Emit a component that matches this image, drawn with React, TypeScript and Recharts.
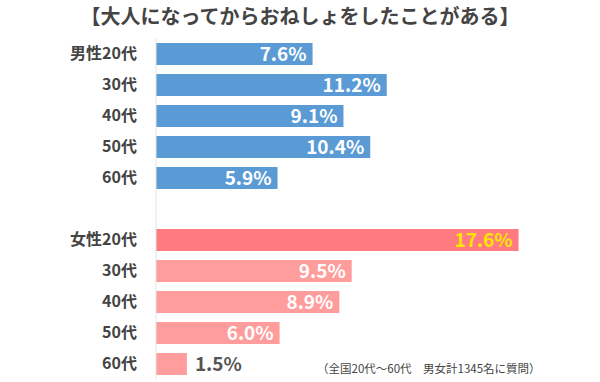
import { BarChart, Bar, XAxis, YAxis, Cell, LabelList } from 'recharts'

const maleGroups = ['男性20代', '30代', '40代', '50代', '60代']
const maleValues = [7.6, 11.2, 9.1, 10.4, 5.9]
const femaleGroups = ['女性20代', '30代', '40代', '50代', '60代']
const femaleValues = [17.6, 9.5, 8.9, 6.0, 1.5]

const title = '【大人になってからおねしょをしたことがある】'
const note = '（全国20代～60代　男女計1345名に質問）'

const MALE = '#5b9bd5'
const FEMALE_TOP = '#ff7b80'
const FEMALE = '#ff9c9c'
const FONT = '"Noto Sans CJK JP", "Noto Sans", sans-serif'

const data = [
  ...maleGroups.map((label, i) => ({ key: `m${i}`, label, value: maleValues[i], color: MALE })),
  { key: 'gap', label: '', value: null as number | null, color: 'none' },
  ...femaleGroups.map((label, i) => ({
    key: `f${i}`,
    label,
    value: femaleValues[i],
    color: i === 0 ? FEMALE_TOP : FEMALE,
  })),
]

function YTick(props: any) {
  const { x, y, payload } = props
  const row = data.find((d) => d.key === payload.value)
  return (
    <text x={x} y={y} dy={5} textAnchor="end" fill="#444" fontSize={16} fontWeight={700} fontFamily={FONT}>
      {row ? row.label : ''}
    </text>
  )
}

function ValueLabel(props: any) {
  const { x, y, width, height, value } = props
  if (value == null) return null
  const text = `${Number(value).toFixed(1)}%`
  const cy = y + height / 2 + 7
  if (width < 60) {
    return (
      <text x={x + width + 8} y={cy} textAnchor="start" fill="#555" fontSize={19} fontWeight={700} fontFamily={FONT}>
        {text}
      </text>
    )
  }
  // the top female bar gets the highlighted label
  const fill = value === femaleValues[0] ? '#ffe600' : '#fff'
  return (
    <text x={x + width - 6} y={cy} textAnchor="end" fill={fill} fontSize={19} fontWeight={700} fontFamily={FONT}>
      {text}
    </text>
  )
}

export default function App() {
  return (
    <div style={{ position: 'absolute', left: 0, top: 0, width: 600, height: 382, background: '#fff', fontFamily: FONT }}>
      <div
        style={{
          position: 'absolute',
          left: 0,
          top: 3,
          width: 600,
          textAlign: 'center',
          fontSize: 20,
          fontWeight: 700,
          color: '#444',
          lineHeight: '26px',
        }}
      >
        {title}
      </div>
      <BarChart
        width={600}
        height={382}
        data={data}
        layout="vertical"
        margin={{ top: 38, right: 32, bottom: 3, left: 0 }}
        barSize={22}
      >
        <XAxis type="number" domain={[0, 20]} hide />
        <YAxis
          type="category"
          dataKey="key"
          width={156}
          tickLine={false}
          tickSize={0}
          tickMargin={19}
          axisLine={{ stroke: '#e4e4e4' }}
          tick={<YTick />}
          interval={0}
        />
        <Bar dataKey="value" isAnimationActive={false}>
          {data.map((d) => (
            <Cell key={d.key} fill={d.color} />
          ))}
          <LabelList dataKey="value" content={<ValueLabel />} />
        </Bar>
      </BarChart>
      <div
        style={{
          position: 'absolute',
          left: 317,
          top: 360,
          fontSize: 11.5,
          color: '#444',
          whiteSpace: 'pre',
        }}
      >
        {note}
      </div>
    </div>
  )
}
